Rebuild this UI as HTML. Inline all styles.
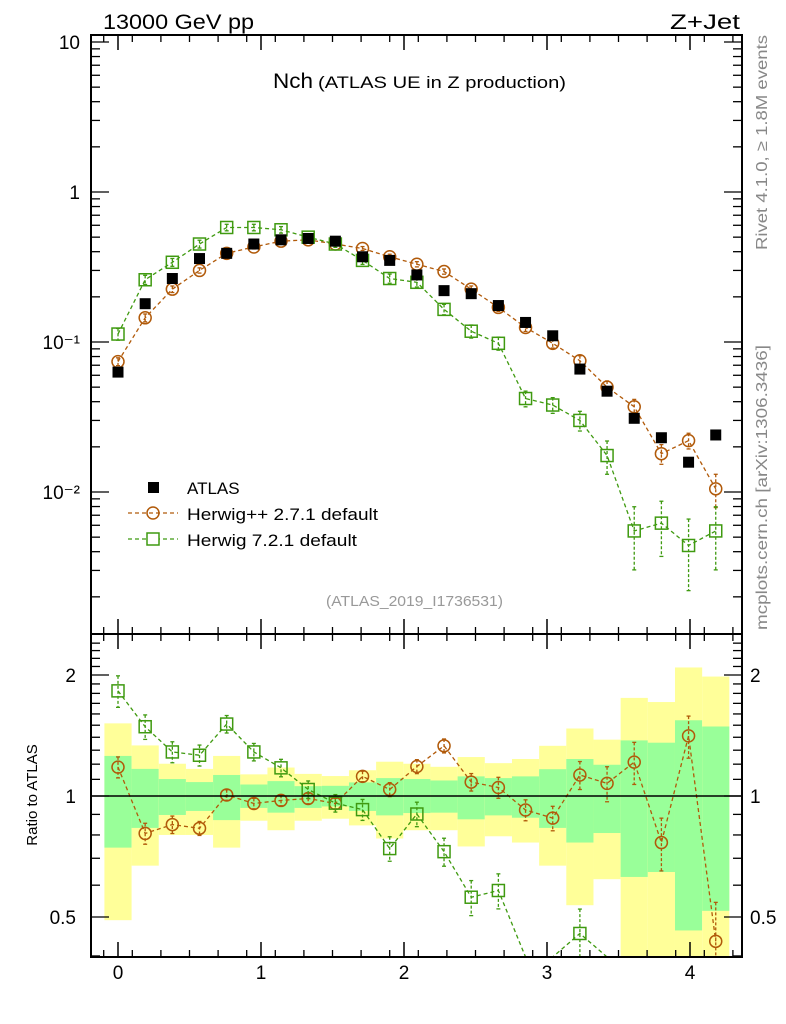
<!DOCTYPE html>
<html><head><meta charset="utf-8"><style>
body{margin:0;background:#fff;}
svg{display:block;font-family:"Liberation Sans",sans-serif;}
</style></head><body>
<svg id="c" width="786" height="1024" xmlns="http://www.w3.org/2000/svg">
<rect x="0" y="0" width="786" height="1024" fill="#fff"/>
<g id="bands"></g>
<g id="marks"></g>
<rect x="91" y="35" width="651" height="599" fill="none" stroke="#000" stroke-width="2"/>
<rect x="91" y="634" width="651" height="323" fill="none" stroke="#000" stroke-width="2"/>
<g id="axes"></g>
<text x="103" y="29" font-size="21" textLength="151" lengthAdjust="spacingAndGlyphs">13000 GeV pp</text>
<text x="670" y="29" font-size="21" textLength="70" lengthAdjust="spacingAndGlyphs">Z+Jet</text>
<g>
<text x="273" y="88" font-size="21" textLength="40" lengthAdjust="spacingAndGlyphs">Nch</text>
<text x="318" y="88" font-size="17" textLength="248" lengthAdjust="spacingAndGlyphs">(ATLAS UE in Z production)</text>
</g>
<text x="326" y="606" font-size="15" fill="#999" textLength="177" lengthAdjust="spacingAndGlyphs">(ATLAS_2019_I1736531)</text>
<text transform="translate(767,250) rotate(-90)" font-size="16" fill="#888" textLength="215" lengthAdjust="spacingAndGlyphs">Rivet 4.1.0, ≥ 1.8M events</text>
<text transform="translate(767,630) rotate(-90)" font-size="16" fill="#888" textLength="285" lengthAdjust="spacingAndGlyphs">mcplots.cern.ch [arXiv:1306.3436]</text>
<text transform="translate(37,795) rotate(-90)" font-size="15" text-anchor="middle">Ratio to ATLAS</text>
<g>
<rect x="148" y="482" width="11" height="11" fill="#000"/>
<text x="187" y="494" font-size="17">ATLAS</text>
<line x1="128" y1="513" x2="178" y2="513" stroke="#b15a0a" stroke-dasharray="4,3" stroke-width="1.3"/>
<circle cx="153" cy="513" r="6" fill="none" stroke="#b15a0a" stroke-width="1.5"/>
<text x="187" y="520" font-size="17" textLength="191" lengthAdjust="spacingAndGlyphs">Herwig++ 2.7.1 default</text>
<line x1="128" y1="539" x2="178" y2="539" stroke="#3f9a10" stroke-dasharray="4,3" stroke-width="1.3"/>
<rect x="147" y="533" width="12" height="12" fill="#fff" stroke="#3f9a10" stroke-width="1.5"/>
<text x="187" y="546" font-size="17" textLength="170" lengthAdjust="spacingAndGlyphs">Herwig 7.2.1 default</text>
</g>
</svg>
<script>
const xs=[0,0.19,0.38,0.57,0.76,0.95,1.14,1.33,1.52,1.71,1.9,2.09,2.28,2.47,2.66,2.85,3.04,3.23,3.42,3.61,3.8,3.99,4.18];
const atlas=[0.063,0.18,0.265,0.36,0.39,0.45,0.48,0.49,0.47,0.37,0.35,0.28,0.22,0.21,0.175,0.135,0.11,0.066,0.047,0.031,0.023,0.0158,0.024];
const hpp=[0.074,0.145,0.225,0.30,0.39,0.43,0.47,0.48,0.45,0.42,0.37,0.33,0.295,0.225,0.17,0.125,0.098,0.075,0.050,0.037,0.018,0.022,0.0105];
const h7=[0.113,0.26,0.34,0.45,0.58,0.58,0.56,0.50,0.45,0.35,0.265,0.25,0.165,0.118,0.098,0.042,0.038,0.030,0.0175,0.0055,0.0062,0.0044,0.0055];
const hppErr=[0.06,0.06,0.05,0.04,0.03,0.03,0.03,0.03,0.03,0.03,0.04,0.04,0.04,0.05,0.06,0.06,0.07,0.08,0.1,0.12,0.15,0.12,0.25];
const h7Err=[0.09,0.07,0.06,0.06,0.05,0.05,0.05,0.05,0.05,0.06,0.07,0.07,0.08,0.1,0.1,0.12,0.12,0.15,0.25,0.45,0.4,0.5,0.45];
const hppRatio=[1.18,0.807,0.849,0.831,1.006,0.958,0.975,0.986,0.958,1.119,1.038,1.184,1.333,1.083,1.05,0.923,0.881,1.128,1.075,1.214,0.766,1.411,0.435];
const h7Ratio=[1.826,1.487,1.287,1.263,1.51,1.287,1.175,1.038,0.96,0.925,0.74,0.902,0.727,0.56,0.582,0.31,0.35,0.455,0.37,0.18,0.27,0.28,0.23];
const yelHi=[1.516,1.336,1.203,1.168,1.258,1.132,1.177,1.135,1.121,1.159,1.217,1.203,1.182,1.25,1.207,1.236,1.333,1.472,1.381,1.754,1.713,2.088,1.982];
const yelLo=[0.491,0.671,0.80,0.80,0.744,0.868,0.822,0.868,0.878,0.845,0.784,0.822,0.822,0.749,0.794,0.766,0.671,0.535,0.621,0.3,0.3,0.3,0.3];
const grnHi=[1.258,1.168,1.102,1.083,1.128,1.068,1.089,1.058,1.06,1.081,1.108,1.102,1.093,1.119,1.108,1.119,1.166,1.236,1.196,1.375,1.357,1.543,1.489];
const grnLo=[0.744,0.833,0.897,0.918,0.871,0.934,0.909,0.934,0.942,0.918,0.895,0.907,0.909,0.875,0.895,0.883,0.833,0.766,0.809,0.629,0.647,0.463,0.518];
const yTicks=["10","1","10⁻¹","10⁻²"];const yTickVals=[10,1,0.1,0.01];
const rTickLabels=["2","1","0.5"];const rTickVals=[2,1,0.5];
const xTickVals=[0,1,2,3,4];
const BW=0.19;
const NS='http://www.w3.org/2000/svg';
const X=v=>118+143*v;
const Y=v=>192-150*Math.log10(v);
const R=v=>796-402*Math.log10(v);
const RT=634,RB=957,MT=35,MB=634;
function el(t,a,p){const e=document.createElementNS(NS,t);for(const k in a)e.setAttribute(k,a[k]);p.appendChild(e);return e;}
const bands=document.getElementById('bands'),marks=document.getElementById('marks'),axes=document.getElementById('axes');
const cl=(y,a,b)=>Math.max(a,Math.min(b,y));
xs.forEach((x,i)=>{
 const x0=X(x-BW/2),w=X(x+BW/2)-x0;
 const y1=cl(R(yelHi[i]),RT,RB),y2=cl(R(yelLo[i]),RT,RB);
 const b=el('rect',{x:x0,y:y1,width:w,height:y2-y1,fill:'#ffff99'},bands);
 
 
 const g1=cl(R(grnHi[i]),RT,RB),g2=cl(R(grnLo[i]),RT,RB);
 const g=el('rect',{x:x0,y:g1,width:w,height:g2-g1,fill:'#99ff99'},bands);
 
 
});
const l1=el('line',{x1:91,x2:742,y1:R(1),y2:R(1),stroke:'#000','stroke-width':1.5},axes);


function series(vals,errs,yf,color,shape,name,top,bot){
 const g=el('g',{},marks);
 
 
 const clip=(y)=>cl(y,top,bot);
 let d='';
 vals.forEach((v,i)=>{d+=(i?'L':'M')+X(xs[i])+','+clip(yf(v));});
 el('path',{d:d,fill:'none',stroke:color,'stroke-width':1.3,'stroke-dasharray':'4,3'},g);
 vals.forEach((v,i)=>{
  const x=X(xs[i]),y=yf(v);
  if(y>bot+2||y<top-2)return;
  if(errs){const ya=clip(yf(v*(1+errs[i]))),yb=clip(yf(Math.max(v*(1-errs[i]),1e-6)));
   el('line',{x1:x,x2:x,y1:ya,y2:yb,stroke:color,'stroke-width':1.3,'stroke-dasharray':'3,2'},g);
   el('line',{x1:x-2,x2:x+2,y1:ya,y2:ya,stroke:color,'stroke-width':1.3},g);
   el('line',{x1:x-2,x2:x+2,y1:yb,y2:yb,stroke:color,'stroke-width':1.3},g);}
  let m;
  if(shape==='c')m=el('circle',{cx:x,cy:y,r:6,fill:'none',stroke:color,'stroke-width':1.5},g);
  else m=el('rect',{x:x-6,y:y-6,width:12,height:12,fill:'none',stroke:color,'stroke-width':1.5},g);
  
  
 });
}
series(hpp,hppErr,Y,'#b15a0a','c','herwigpp-series',MT,MB);
series(h7,h7Err,Y,'#3f9a10','s','herwig7-series',MT,MB);
series(hppRatio,hppErr,R,'#b15a0a','c','herwigpp-ratio',RT,RB);
series(h7Ratio,h7Err,R,'#3f9a10','s','herwig7-ratio',RT,RB);
atlas.forEach((v,i)=>{
 const p=el('rect',{x:X(xs[i])-5.5,y:Y(v)-5.5,width:11,height:11,fill:'#000'},marks);
 
 
});
for(let dec=-3;dec<=1;dec++){for(let k=1;k<10;k++){const v=k*Math.pow(10,dec);const y=Y(v);if(y<MT||y>MB)continue;
 const len=k===1?18:9;
 el('line',{x1:91,x2:91+len,y1:y,y2:y,stroke:'#000','stroke-width':1.3},axes);
 el('line',{x1:742,x2:742-len,y1:y,y2:y,stroke:'#000','stroke-width':1.3},axes);}}
yTicks.forEach((t,i)=>{const tx=el('text',{x:80,y:Y(yTickVals[i])+7,'font-size':19,'text-anchor':'end'},axes);tx.textContent=t;
 
 });
for(let v=0.4;v<=2.5;v+=0.1){const y=R(v);if(y<RT||y>RB)continue;const major=Math.abs(v-0.5)<1e-6||Math.abs(v-1)<1e-6||Math.abs(v-2)<1e-6;const len=major?18:9;
 el('line',{x1:91,x2:91+len,y1:y,y2:y,stroke:'#000','stroke-width':1.3},axes);
 el('line',{x1:742,x2:742-len,y1:y,y2:y,stroke:'#000','stroke-width':1.3},axes);}
rTickLabels.forEach((t,i)=>{const y=R(rTickVals[i])+7;
 const a=el('text',{x:76,y:y,'font-size':19,'text-anchor':'end'},axes);a.textContent=t;
 
 
 const b=el('text',{x:750,y:y,'font-size':19},axes);b.textContent=t;
 
 });
for(let v=-0.1;v<=4.4;v+=0.2){const x=X(v);if(x<91||x>742)continue;
 [[MT,1],[MB,-1],[RT,1],[RB,-1]].forEach(([y,s])=>el('line',{x1:x,x2:x,y1:y,y2:y+s*7,stroke:'#000','stroke-width':1.3},axes));}
xTickVals.forEach(v=>{const x=X(v);
 [[MT,1],[MB,-1],[RT,1],[RB,-1]].forEach(([y,s])=>el('line',{x1:x,x2:x,y1:y,y2:y+s*15,stroke:'#000','stroke-width':1.5},axes));
 const t=el('text',{x:x,y:979,'font-size':19,'text-anchor':'middle'},axes);t.textContent=String(v);
 
 });
</script>
</body></html>
